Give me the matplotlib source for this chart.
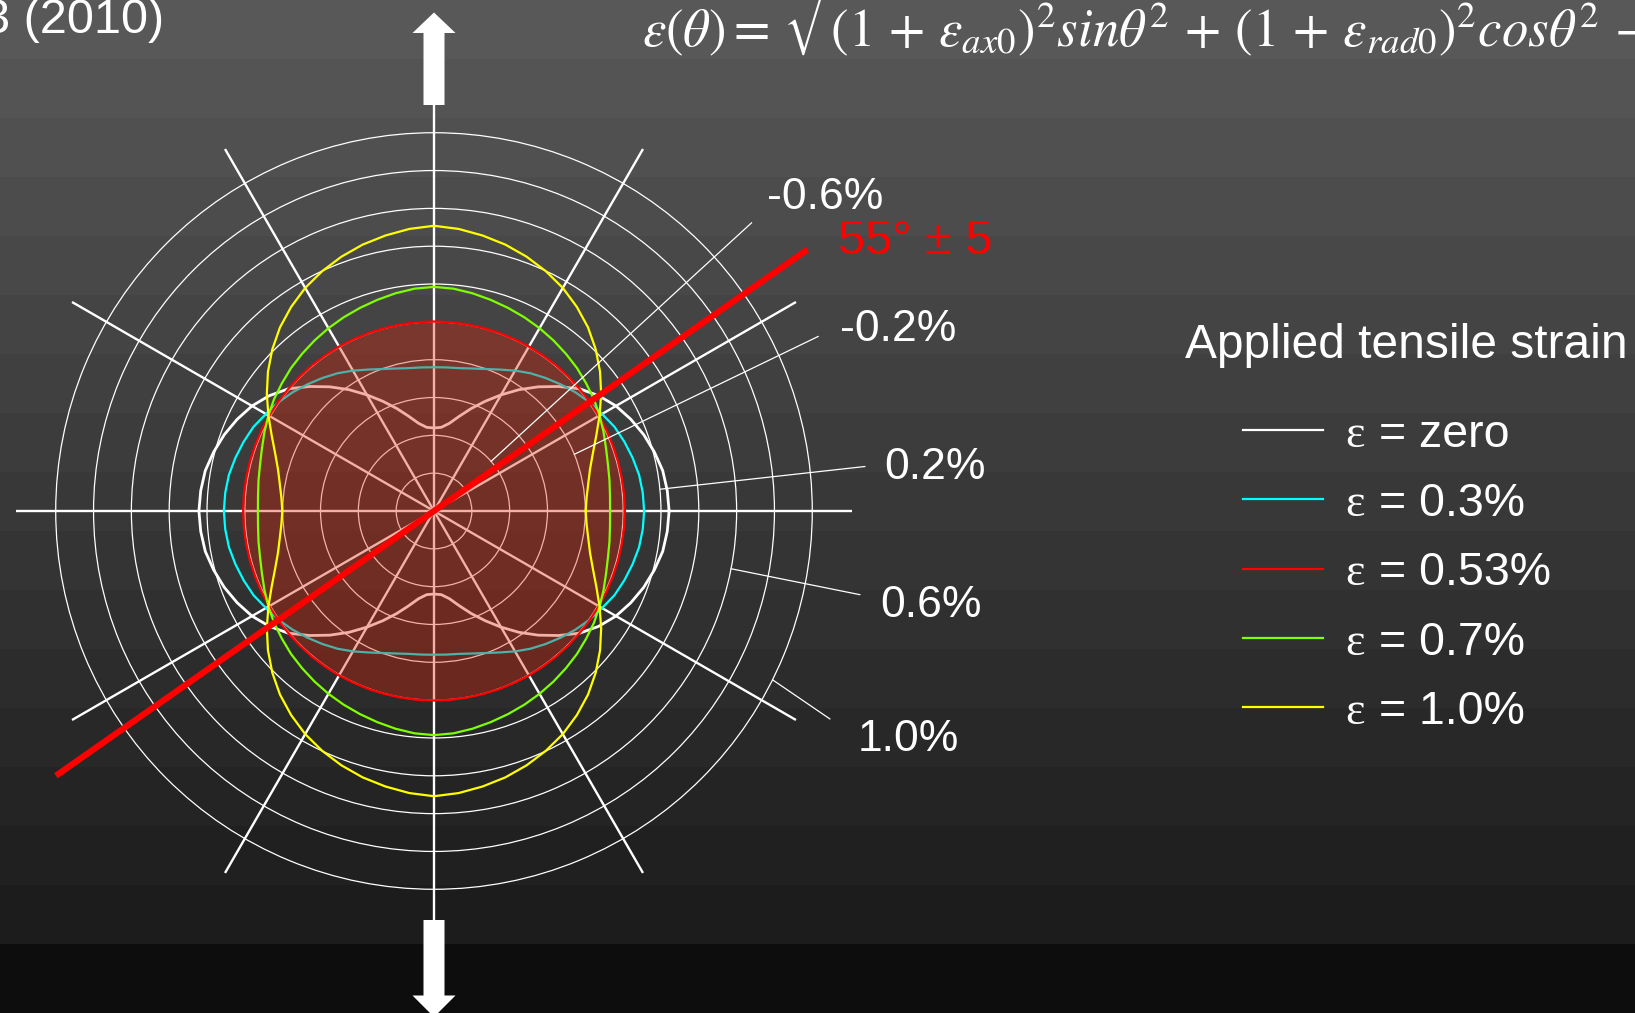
import matplotlib.pyplot as plt
import numpy as np
from matplotlib.patches import Polygon

plt.rcParams['font.family'] = ['Liberation Sans', 'DejaVu Sans']
plt.rcParams['mathtext.fontset'] = 'stix'

W, H = 1635, 1013

# strain (%) read every 5 deg over one quadrant; the loci are symmetric about both axes
quad_theta = [0, 5, 10, 15, 20, 25, 30, 35, 40, 45, 50, 55, 60, 65, 70, 75, 80, 85, 90]
strain_zero = [0.243, 0.238, 0.228, 0.206, 0.180, 0.148, 0.111, 0.063, 0.005, -0.069,
               -0.143, -0.217, -0.291, -0.360, -0.423, -0.481, -0.529, -0.556, -0.561]
strain_03 = [0.111, 0.108, 0.101, 0.087, 0.071, 0.053, 0.026, 0.003, -0.024, -0.053,
             -0.082, -0.111, -0.143, -0.175, -0.201, -0.220, -0.233, -0.238, -0.240]
strain_053 = [0.009, 0.009, 0.008, 0.008, 0.007, 0.007, 0.006, 0.006, 0.005, 0.005,
              0.005, 0.004, 0.004, 0.003, 0.003, 0.002, 0.002, 0.002, 0.002]
strain_07 = [-0.069, -0.066, -0.058, -0.048, -0.032, -0.011, 0.011, 0.032, 0.050, 0.069,
             0.085, 0.101, 0.116, 0.130, 0.143, 0.156, 0.169, 0.180, 0.185]
strain_10 = [-0.198, -0.190, -0.172, -0.146, -0.106, -0.053, 0.011, 0.079, 0.146, 0.209,
             0.267, 0.317, 0.362, 0.399, 0.431, 0.458, 0.479, 0.497, 0.508]

series = [strain_zero, strain_03, strain_053, strain_07, strain_10]
series_labels = ['zero', '0.3%', '0.53%', '0.7%', '1.0%']
series_colors = ['white', '#00ffff', '#ff0000', '#80ff00', '#ffff00']

ring_values = [-0.8, -0.6, -0.4, -0.2, 0.0, 0.2, 0.4, 0.6, 0.8, 1.0]
ring_label_values = [-0.6, -0.2, 0.2, 0.6, 1.0]
ring_labels = ['-0.6%', '-0.2%', '0.2%', '0.6%', '1.0%']

winding_angle = 55   # deg from the pipe axis
winding_tol = 5


def full_circle(vals):
    th = np.asarray(quad_theta, dtype=float)
    v = np.asarray(vals)
    t = np.concatenate([th, 180 - th[::-1][1:], 180 + th[1:], 360 - th[::-1][1:]])
    r = np.concatenate([v, v[::-1][1:], v[1:], v[::-1][1:]])
    return np.radians(t), r


fig = plt.figure(figsize=(W / 100, H / 100), dpi=100)

# stepped grey background
band_levels = [88, 84, 80, 76, 72, 68, 64, 60, 56, 52, 48, 44, 40, 36, 32, 28]
img = np.concatenate([np.repeat(band_levels, 59), np.full(H - 59 * len(band_levels), 13)])
bg = fig.add_axes([0, 0, 1, 1], zorder=0)
bg.imshow(img[:, None], cmap='gray', vmin=0, vmax=255, aspect='auto',
          extent=(0, W, H, 0), interpolation='nearest')
bg.axis('off')

# polar strain plot
pax = fig.add_axes([16 / W, 84 / H, 836 / W, 836 / H], projection='polar', zorder=1)
pax.set_facecolor('none')
pax.spines['polar'].set_visible(False)
pax.set_rlim(-1.0, 1.21)
pax.set_rgrids(ring_values, labels=[''] * len(ring_values))
pax.set_thetagrids(range(0, 360, 30), labels=[''] * 12)
pax.yaxis.grid(True, color='white', lw=0.9)
pax.xaxis.grid(True, color='white', lw=1.7)
pax.tick_params(length=0)

widths = [2.0, 1.6, 1.6, 1.6, 1.6]
zorders = [2.1, 2.2, 3.5, 4, 4.5]
for vals, col, lw, z in zip(series, series_colors, widths, zorders):
    t, r = full_circle(vals)
    pax.plot(t, r, color=col, lw=lw, zorder=z)

t, r = full_circle(strain_053)
pax.fill(t, r, color=(0.88, 0.13, 0.02), alpha=0.35, lw=0, zorder=3)

wt = np.radians(90 - winding_angle)
pax.plot([wt, wt, wt + np.pi], [1.41, -1.0, 1.44], color='red', lw=4.5,
         solid_capstyle='butt', clip_on=False, zorder=6)

# overlay in pixel coordinates for labels and arrows
ov = fig.add_axes([0, 0, 1, 1], zorder=2)
ov.set_xlim(0, W)
ov.set_ylim(H, 0)
ov.axis('off')


def arrow(tip_y, base_y, end_y):
    cx = 434
    return Polygon([(cx - 10.5, end_y), (cx - 10.5, base_y), (cx - 21.5, base_y), (cx, tip_y),
                    (cx + 21.5, base_y), (cx + 10.5, base_y), (cx + 10.5, end_y)],
                   closed=True, facecolor='white', edgecolor='none')


ov.add_patch(arrow(12.5, 33, 105))
ov.add_patch(arrow(1017, 995.5, 920))

leader_theta = [41, 22, 5.5, 349, 333.5]
leader_ends = [(751.7, 222.7), (818.3, 336.4), (865, 466.5), (860, 594.7), (830, 719)]
label_pos = [(767, 209), (840, 341), (884, 479), (880, 617), (858, 751)]
for val, lab, th, end, pos in zip(ring_label_values, ring_labels, leader_theta,
                                  leader_ends, label_pos):
    ov.annotate('', xy=(np.radians(th), val), xycoords=pax.transData,
                xytext=end, textcoords='data',
                arrowprops=dict(arrowstyle='-', color='white', lw=0.9,
                                shrinkA=0, shrinkB=0))
    ov.text(pos[0], pos[1], lab, color='white', fontsize=32, va='baseline')

ov.text(838, 254, f'{winding_angle}° ± {winding_tol}', color='red', fontsize=35,
        va='baseline')

ov.text(1185, 358, 'Applied tensile strain', color='white', fontsize=34.5, va='baseline')
for i, (lab, col) in enumerate(zip(series_labels, series_colors)):
    y = 430 + i * 69.3
    ov.plot([1243, 1323], [y, y], color=col, lw=1.6)
    ov.text(1345, y + 16.7, 'ε', color='white', fontsize=33.5, va='baseline',
            family=['Liberation Serif', 'DejaVu Serif'])
    ov.text(1379, y + 16.7, '= ' + lab, color='white', fontsize=33.5, va='baseline')

ov.text(-17, 33, '3 (2010)', color='white', fontsize=35, va='baseline')
formula = (r'$\varepsilon(\theta) =\, \sqrt{(1 \,+\, \varepsilon_{ax0})^2 sin\theta^2'
           r' \,+\, (1 \,+\, \varepsilon_{rad0})^2 cos\theta^2 \,-\, 1}$')
ov.text(642, 46, formula, color='white', fontsize=38, va='baseline')

fig.savefig('out.png', dpi=100)
